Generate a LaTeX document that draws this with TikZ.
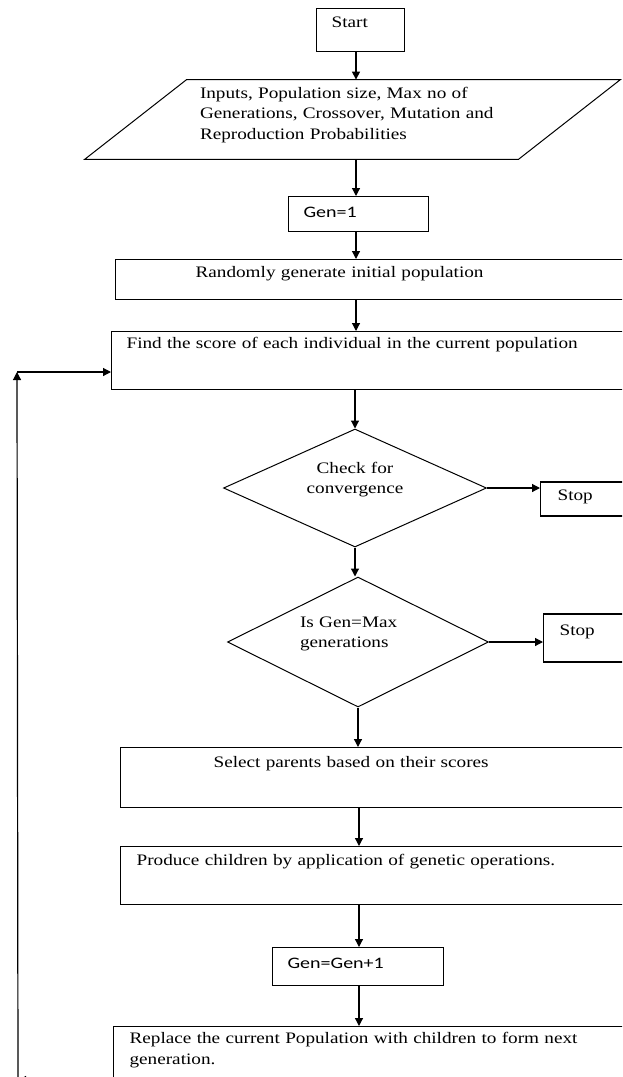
\documentclass[tikz,border=0pt]{standalone}
\usepackage{fontspec}
\setmainfont{Liberation Serif}[FakeStretch=1.2]
\newfontfamily\calfont{Carlito}[FakeStretch=1.25]
\usepackage{tikz}
\usetikzlibrary{shapes.geometric, arrows.meta, positioning}

\begin{document}
\begin{tikzpicture}[
    x=0.5pt, y=-0.5pt,
    font=\fontsize{8}{10.25}\selectfont,
    box/.style={rectangle, draw, line width=0.6pt, anchor=north west, align=left, inner ysep=0pt},
    decision/.style={diamond, aspect=2.2, draw, line width=0.5pt, inner sep=0pt, text height=6pt, text depth=21pt},
    io/.style={rectangle, inner sep=0pt, align=left},
    genfont/.style={font=\calfont\fontsize{8}{10}\selectfont},
    arrow/.style={-{Triangle[length=4pt, width=4pt]}, line width=0.6pt}
]
\useasboundingbox (0,0) rectangle (622,1077);
\clip (0,0) rectangle (622,1077);

% Main column
\coordinate (axis) at (356,0);
\coordinate (axisb) at (359,0);

% Start
\node[box, inner xsep=7.5pt, text width=29pt, text height=9.5pt, text depth=12pt] (start) at (316,8) {Start};

% Inputs (parallelogram drawn on the node's corners)
\node[io, minimum width=267.5pt, minimum height=39.5pt, text width=152.5pt, text height=9pt, text depth=30.5pt] (inputs) at (352.5,119.5)
    {Inputs, Population size, Max no of\\Generations, Crossover, Mutation and\\Reproduction Probabilities};
\draw[line width=0.5pt] (inputs.south west) -- ([xshift=-51pt]inputs.south east) -- (inputs.north east)
    -- ([xshift=51pt]inputs.north west) -- cycle;

% Gen=1
\node[box, genfont, inner xsep=7.5pt, text width=55pt, text height=10.5pt, text depth=7pt] (gen) at (288,196) {Gen=1};

% Initial population
\node[box, inner xsep=40pt, text width=182.5pt, text height=9pt, text depth=11pt] (init) at (115,259) {Randomly generate initial population};

% Score
\node[box, inner xsep=7.5pt, text width=249.5pt, text height=8.5pt, text depth=20.5pt] (score) at (111,331) {Find the score of each individual in the current population};

% Convergence test
\node[decision, minimum width=131.5pt, minimum height=59pt, align=center, text width=58pt] (conv) at (355,488) {Check for\\convergence};
\node[box, inner xsep=8.5pt, text width=33.5pt, text height=9pt, text depth=8pt, right=26.5pt of conv, yshift=-5.5pt] (stopA) {Stop};

% Max generations test
\node[decision, minimum width=130.5pt, minimum height=65pt, align=left, text width=58pt] (maxgen) at (358,642) {Is Gen=Max\\generations};
\node[box, inner xsep=8pt, text width=33pt, text height=10.5pt, text depth=13.5pt, right=27pt of maxgen, yshift=2pt] (stopB) {Stop};

% Selection
\node[box, inner xsep=46.5pt, text width=167pt, text height=10pt, text depth=20pt] (select) at (120,747) {Select parents based on their scores};

% Children
\node[box, inner xsep=8pt, text width=244pt, text height=9.5pt, text depth=19.5pt] (produce) at (120,846) {Produce children by application of genetic operations.};

% Gen=Gen+1
\node[box, genfont, inner xsep=7.5pt, text width=70.5pt, text height=10.5pt, text depth=8.5pt] (incr) at (272,947) {Gen=Gen+1};

% Replace
\node[box, inner xsep=8pt, text width=247.5pt, text height=8.5pt, text depth=23.5pt] (replace) at (113,1026)
    {Replace the current Population with children to form next\\generation.};

% Loop corners
\coordinate (loopb) at (18,1080);
\coordinate (loopt) at (17,372);

% Arrows
\draw[arrow] (start.south -| axis) -- (inputs.north -| axis);
\draw[arrow] (inputs.south -| axis) -- (gen.north -| axis);
\draw[arrow] (gen.south -| axis) -- (init.north -| axis);
\draw[arrow] (init.south -| axis) -- (score.north -| axis);
\draw[arrow] (score.south -| conv.north) -- (conv.north);
\draw[arrow] (conv.south) -- (conv.south |- maxgen.north);
\draw[arrow] (conv.east) -- (conv.east -| stopA.west);
\draw[arrow] (maxgen.east) -- (maxgen.east -| stopB.west);
\draw[arrow] (maxgen.south) -- (maxgen.south |- select.north);
\draw[arrow] (select.south -| axisb) -- (produce.north -| axisb);
\draw[arrow] (produce.south -| axisb) -- (incr.north -| axisb);
\draw[arrow] (incr.south -| axisb) -- (replace.north -| axisb);

% Back to scoring
\draw[arrow] (replace.west |- loopb) -- (loopb);
\draw[arrow] (loopb) -- (loopt);
\draw[arrow] (loopt) -- (score.west |- loopt);

\end{tikzpicture}
\end{document}
